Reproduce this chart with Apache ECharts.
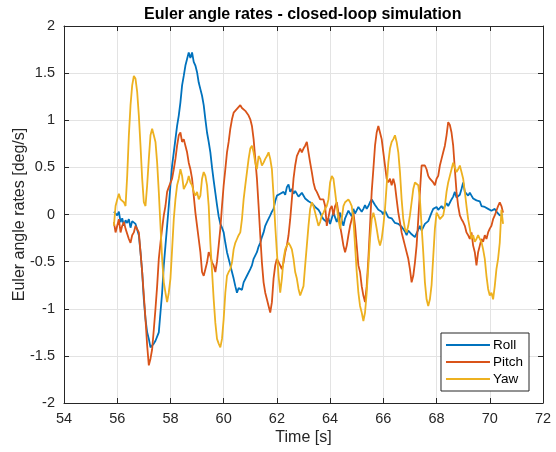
<!DOCTYPE html>
<html>
<head>
<meta charset="utf-8">
<script src="https://cdn.jsdelivr.net/npm/echarts/dist/echarts.min.js"></script>
<style>
  html, body { margin: 0; padding: 0; background: #ffffff; }
  #chart { width: 556px; height: 452px; }
</style>
</head>
<body>
<div id="chart"></div>
<script>
// Sampling of the logged signals: first sample time and fixed step [s]
const startTime = 55.875;
const sampleStep = 0.0625;

// Euler angle rates [deg/s]
const rollRate = [
  0.03, 0.01, -0.01, 0.03, -0.08, -0.04, -0.12, -0.06, -0.09, -0.05,
  -0.14, -0.07, -0.08, -0.10, -0.12, -0.22, -0.40, -0.61, -0.90, -1.11,
  -1.25, -1.32, -1.41, -1.43, -1.37, -1.34, -1.32, -1.25, -1.04, -0.83,
  -0.54, -0.33, -0.12, 0.09, 0.31, 0.52, 0.66, 0.80, 0.94, 1.05,
  1.19, 1.37, 1.47, 1.58, 1.65, 1.72, 1.66, 1.72, 1.62, 1.58,
  1.51, 1.40, 1.33, 1.26, 1.16, 1.01, 0.87, 0.77, 0.66, 0.50,
  0.36, 0.23, 0.10, -0.02, -0.10, -0.14, -0.19, -0.30, -0.40, -0.47,
  -0.54, -0.61, -0.68, -0.76, -0.83, -0.78, -0.76, -0.80, -0.72, -0.74,
  -0.65, -0.66, -0.58, -0.54, -0.47, -0.45, -0.40, -0.34, -0.30, -0.24,
  -0.19, -0.12, -0.08, -0.06, -0.01, 0.03, 0.06, 0.14, 0.20, 0.19,
  0.22, 0.20, 0.24, 0.21, 0.29, 0.32, 0.24, 0.27, 0.22, 0.25,
  0.24, 0.19, 0.20, 0.23, 0.22, 0.17, 0.18, 0.14, 0.15, 0.12,
  0.11, 0.08, 0.06, 0.05, 0.02, -0.02, -0.05, -0.06, -0.08, -0.04,
  -0.10, -0.04, 0.02, -0.03, -0.08, -0.02, 0.02, -0.06, -0.12, -0.04,
  -0.05, 0.04, 0.02, -0.02, 0.06, 0.01, 0.02, 0.08, 0.09, 0.03,
  0.06, 0.10, 0.06, 0.09, 0.13, 0.16, 0.13, 0.10, 0.09, 0.05,
  0.06, 0.03, 0.00, 0.04, 0.02, -0.03, -0.01, -0.04, -0.05, -0.09,
  -0.08, -0.10, -0.12, -0.13, -0.15, -0.18, -0.22, -0.17, -0.19, -0.21,
  -0.19, -0.24, -0.22, -0.16, -0.12, -0.17, -0.15, -0.10, -0.08, -0.07,
  -0.05, 0.02, 0.06, 0.04, 0.08, 0.05, 0.07, 0.09, 0.06, 0.08,
  0.12, 0.09, 0.11, 0.16, 0.19, 0.24, 0.18, 0.16, 0.21, 0.27,
  0.34, 0.24, 0.26, 0.20, 0.23, 0.20, 0.17, 0.19, 0.15, 0.13,
  0.14, 0.09, 0.11, 0.08, 0.07, 0.06, 0.07, 0.04, 0.05, 0.06,
  0.03, 0.02, -0.01, 0.01, 0.00
];

const pitchRate = [
  -0.08, -0.19, -0.12, -0.05, -0.19, -0.12, -0.08, -0.15, -0.15, -0.26,
  -0.30, -0.22, -0.19, -0.12, -0.12, -0.19, -0.40, -0.61, -0.86, -1.11,
  -1.39, -1.60, -1.53, -1.43, -1.22, -1.00, -0.76, -0.47, -0.30, -0.15,
  -0.01, 0.09, 0.24, 0.29, 0.29, 0.38, 0.48, 0.59, 0.73, 0.84,
  0.87, 0.77, 0.80, 0.73, 0.66, 0.55, 0.48, 0.38, 0.20, 0.02,
  -0.12, -0.26, -0.40, -0.61, -0.65, -0.58, -0.51, -0.40, -0.44, -0.51,
  -0.54, -0.61, -0.50, -0.33, -0.15, 0.09, 0.31, 0.48, 0.66, 0.77,
  0.91, 1.01, 1.08, 1.10, 1.12, 1.14, 1.16, 1.13, 1.12, 1.10,
  1.08, 1.05, 1.01, 0.94, 0.80, 0.59, 0.38, 0.09, -0.22, -0.51,
  -0.72, -0.83, -0.90, -0.97, -1.04, -0.93, -0.68, -0.54, -0.47, -0.47,
  -0.54, -0.58, -0.51, -0.40, -0.33, -0.22, -0.05, 0.16, 0.38, 0.52,
  0.62, 0.66, 0.70, 0.66, 0.70, 0.73, 0.77, 0.66, 0.55, 0.45,
  0.34, 0.27, 0.24, 0.20, 0.16, 0.18, 0.16, 0.09, -0.12, -0.12,
  0.06, 0.09, -0.01, 0.09, 0.13, 0.02, -0.12, -0.22, -0.33, -0.40,
  -0.33, -0.22, -0.12, -0.05, 0.02, -0.12, -0.33, -0.54, -0.61, -0.76,
  -0.86, -0.93, -0.76, -0.47, -0.12, 0.24, 0.48, 0.73, 0.87, 0.94,
  0.87, 0.80, 0.66, 0.52, 0.38, 0.34, 0.38, 0.31, 0.38, 0.31,
  0.16, 0.02, -0.08, -0.19, -0.26, -0.33, -0.40, -0.47, -0.58, -0.72,
  -0.65, -0.51, -0.33, -0.05, 0.24, 0.52, 0.52, 0.52, 0.48, 0.41,
  0.38, 0.38, 0.34, 0.31, 0.38, 0.41, 0.52, 0.59, 0.66, 0.73,
  0.84, 0.98, 0.95, 0.87, 0.73, 0.48, 0.24, 0.09, -0.01, -0.05,
  -0.08, -0.12, -0.19, -0.22, -0.26, -0.19, -0.33, -0.40, -0.54, -0.40,
  -0.33, -0.26, -0.29, -0.22, -0.26, -0.19, -0.15, -0.12, -0.05, -0.01,
  0.04, 0.09, 0.13, 0.09, 0.02
];

const yawRate = [
  -0.12, 0.09, 0.16, 0.22, 0.16, 0.14, 0.13, 0.09, 0.41, 0.84,
  1.16, 1.37, 1.47, 1.44, 1.30, 1.05, 0.73, 0.38, 0.13, 0.09,
  0.31, 0.59, 0.84, 0.91, 0.84, 0.77, 0.55, 0.24, -0.12, -0.47,
  -0.72, -0.83, -0.93, -0.83, -0.68, -0.37, -0.05, 0.16, 0.31, 0.38,
  0.48, 0.41, 0.27, 0.27, 0.34, 0.41, 0.34, 0.31, 0.24, 0.20,
  0.24, 0.16, 0.20, 0.38, 0.45, 0.41, 0.31, 0.09, -0.30, -0.60,
  -0.90, -1.15, -1.32, -1.37, -1.41, -1.32, -1.11, -0.83, -0.65, -0.61,
  -0.58, -0.51, -0.37, -0.30, -0.26, -0.22, -0.19, -0.05, 0.16, 0.31,
  0.45, 0.59, 0.70, 0.73, 0.66, 0.55, 0.48, 0.62, 0.59, 0.52,
  0.55, 0.59, 0.62, 0.66, 0.59, 0.48, 0.20, -0.12, -0.40, -0.65,
  -0.83, -0.68, -0.47, -0.37, -0.33, -0.30, -0.33, -0.37, -0.47, -0.61,
  -0.68, -0.79, -0.86, -0.86, -0.76, -0.54, -0.33, -0.12, 0.06, 0.13,
  0.09, 0.02, -0.05, -0.12, -0.08, -0.01, 0.02, 0.06, 0.09, 0.16,
  0.34, 0.41, 0.38, 0.24, 0.09, -0.05, -0.15, -0.05, 0.09, 0.13,
  0.14, 0.16, 0.13, 0.09, -0.05, -0.33, -0.61, -0.83, -0.97, -1.04,
  -1.13, -1.04, -0.83, -0.54, -0.26, -0.05, 0.02, -0.05, -0.15, -0.26,
  -0.33, -0.26, -0.12, 0.06, 0.31, 0.55, 0.70, 0.77, 0.80, 0.84,
  0.77, 0.66, 0.45, 0.16, -0.05, -0.15, -0.19, -0.12, -0.01, 0.13,
  0.27, 0.34, 0.34, 0.31, 0.16, -0.12, -0.40, -0.72, -0.90, -0.97,
  -0.90, -0.75, -0.45, -0.15, 0.02, -0.01, -0.05, -0.07, -0.01, 0.09,
  0.24, 0.34, 0.41, 0.48, 0.55, 0.53, 0.45, 0.48, 0.52, 0.45,
  0.38, 0.24, 0.09, -0.05, -0.15, -0.26, -0.22, -0.29, -0.26, -0.22,
  -0.26, -0.29, -0.37, -0.47, -0.65, -0.79, -0.86, -0.83, -0.90, -0.76,
  -0.58, -0.47, -0.30, 0.05, -0.10
];

const seriesNames = ['Roll', 'Pitch', 'Yaw'];
const seriesColors = ['#0072BD', '#D95319', '#EDB120'];
const seriesValues = [rollRate, pitchRate, yawRate];

const AXIS_COLOR = '#262626';
const GRID_COLOR = '#e3e3e3';
const FONT = 'Liberation Sans, Arial, Helvetica, sans-serif';

function toPairs(values) {
  return values.map((v, i) => [startTime + i * sampleStep, v]);
}

// Axis with a plain frame line and inward ticks (used for all four box sides)
function boxAxis(base, extra) {
  return Object.assign({
    type: 'value',
    axisLine: { show: true, onZero: false, lineStyle: { color: AXIS_COLOR, width: 1 } },
    axisTick: { show: true, inside: true, length: 5, lineStyle: { color: AXIS_COLOR } },
    axisLabel: { show: false },
    splitLine: { show: false }
  }, base, extra);
}

const chart = echarts.init(document.getElementById('chart'), null, { renderer: 'canvas' });

chart.setOption({
  animation: false,
  backgroundColor: '#ffffff',
  title: {
    text: 'Euler angle rates - closed-loop simulation',
    left: 144,
    top: 7,
    padding: 0,
    textStyle: { fontFamily: FONT, fontSize: 16, fontWeight: 'bold', color: '#000000' }
  },
  grid: {
    left: 64, right: 13, top: 26, bottom: 49,
    containLabel: false,
    outerBoundsMode: 'none'
  },
  legend: {
    data: seriesNames,
    orient: 'vertical',
    right: 27,
    bottom: 61,
    padding: [5, 6, 5, 5],
    itemGap: 3,
    itemWidth: 44,
    itemHeight: 2,
    icon: 'rect',
    borderColor: AXIS_COLOR,
    borderWidth: 1,
    backgroundColor: '#ffffff',
    textStyle: { fontFamily: FONT, fontSize: 13.5, color: '#000000', padding: [0, 0, 0, -2] }
  },
  xAxis: [
    boxAxis({ min: 54, max: 72, interval: 2, position: 'bottom' }, {
      axisLabel: { show: true, color: AXIS_COLOR, fontFamily: FONT, fontSize: 14.5, margin: 8 },
      splitLine: { show: true, lineStyle: { color: GRID_COLOR, width: 1 } },
      name: 'Time [s]',
      nameLocation: 'middle',
      nameGap: 27,
      nameMoveOverlap: false,
      nameTextStyle: { fontFamily: FONT, fontSize: 16, color: AXIS_COLOR }
    }),
    boxAxis({ min: 54, max: 72, interval: 2, position: 'top' })
  ],
  yAxis: [
    boxAxis({ min: -2, max: 2, interval: 0.5, position: 'left' }, {
      axisLabel: { show: true, color: AXIS_COLOR, fontFamily: FONT, fontSize: 14.5, margin: 9 },
      splitLine: { show: true, lineStyle: { color: GRID_COLOR, width: 1 } },
      name: 'Euler angle rates [deg/s]',
      nameLocation: 'middle',
      nameRotate: 90,
      nameGap: 36,
      nameMoveOverlap: false,
      nameTextStyle: { fontFamily: FONT, fontSize: 16, color: AXIS_COLOR }
    }),
    boxAxis({ min: -2, max: 2, interval: 0.5, position: 'right' })
  ],
  series: seriesNames.map((name, i) => ({
    name: name,
    type: 'line',
    xAxisIndex: 0,
    yAxisIndex: 0,
    data: toPairs(seriesValues[i]),
    showSymbol: false,
    symbol: 'none',
    smooth: false,
    lineStyle: { color: seriesColors[i], width: 1.8 },
    itemStyle: { color: seriesColors[i] },
    z: 3 + i
  }))
});
</script>
</body>
</html>
